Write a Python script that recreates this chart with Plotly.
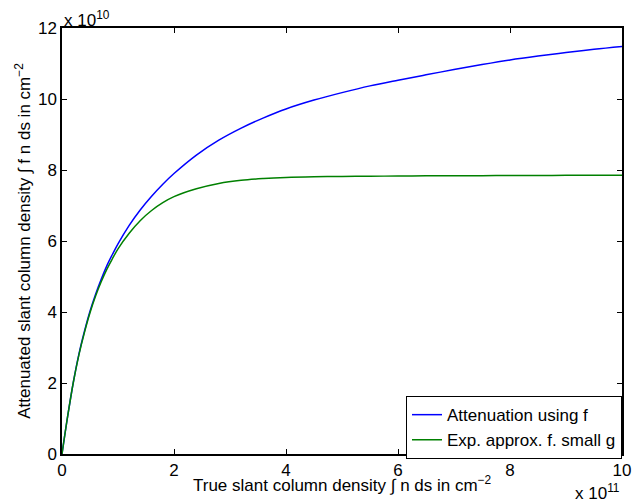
import plotly.graph_objects as go

# x in units of 1e11 cm^-2, y in units of 1e10 cm^-2
true_density = [0, 0.1, 0.2, 0.3, 0.4, 0.5, 0.6, 0.7, 0.8, 0.9, 1.0, 1.2, 1.4, 1.6, 1.8, 2.0,
                2.4, 2.8, 3.2, 3.6, 4.0, 4.5, 5.0, 5.5, 6.0, 6.5, 7.0, 7.5, 8.0, 8.5, 9.0, 9.5, 10.0]
attenuated_f = [0, 1.05, 2.0, 2.8, 3.45, 4.02, 4.5, 4.92, 5.3, 5.62, 5.92, 6.44, 6.88, 7.26, 7.6, 7.9,
                8.42, 8.84, 9.18, 9.47, 9.72, 9.97, 10.18, 10.37, 10.53, 10.68, 10.83, 10.97, 11.1, 11.21, 11.31, 11.4, 11.48]
exp_approx = [0, 1.05, 2.0, 2.78, 3.42, 3.98, 4.45, 4.85, 5.2, 5.5, 5.78, 6.22, 6.58, 6.86, 7.08, 7.25,
              7.47, 7.62, 7.71, 7.76, 7.79, 7.81, 7.82, 7.825, 7.83, 7.835, 7.84, 7.84, 7.845, 7.845, 7.85, 7.85, 7.85]

series_names = ["Attenuation using f", "Exp. approx. f. small g"]
x_ticks = [0, 2, 4, 6, 8, 10]
y_ticks = [0, 2, 4, 6, 8, 10, 12]

FONT = "Liberation Sans, Arial, Helvetica, sans-serif"
FS = 17

fig = go.Figure()
fig.add_trace(go.Scatter(x=true_density, y=attenuated_f, mode="lines", name=series_names[0],
                         line=dict(color="#0000ff", width=1.5, shape="spline", smoothing=1.0)))
fig.add_trace(go.Scatter(x=true_density, y=exp_approx, mode="lines", name=series_names[1],
                         line=dict(color="#008000", width=1.5, shape="spline", smoothing=1.0)))

axis_common = dict(showline=True, linecolor="black", linewidth=1.5, mirror="ticks",
                   ticks="inside", ticklen=5, tickwidth=1.2, tickcolor="black",
                   showgrid=False, zeroline=False, automargin=False,
                   tickfont=dict(family=FONT, size=FS, color="black"))

fig.update_layout(
    width=633, height=494,
    margin=dict(l=54, r=19, t=20, b=48, pad=0),
    paper_bgcolor="white", plot_bgcolor="white",
    font=dict(family=FONT, size=FS, color="black"),
    xaxis=dict(range=[0, 10], tickvals=x_ticks, ticktext=[str(v) for v in x_ticks],
               **axis_common),
    yaxis=dict(range=[0, 12], tickvals=y_ticks, ticktext=[str(v) for v in y_ticks],
               title=dict(text="Attenuated slant column density ∫ f n ds in cm<sup>−2</sup>",
                          font=dict(family=FONT, size=FS), standoff=3),
               **axis_common),
    showlegend=True,
    legend=dict(x=1, y=-0.012, xanchor="right", yanchor="bottom",
                bgcolor="white", bordercolor="black", borderwidth=1,
                font=dict(family=FONT, size=FS), itemwidth=30,
                tracegroupgap=0),
    annotations=[
        dict(text="True slant column density ∫ n ds in cm<sup>−2</sup>", xref="paper", yref="paper",
             x=0.5, y=0, xanchor="center", yanchor="middle", yshift=-30, showarrow=False,
             font=dict(family=FONT, size=FS)),
        dict(text="x 10<sup>10</sup>", xref="paper", yref="paper", x=0, y=1,
             xanchor="left", yanchor="bottom", yshift=-4, showarrow=False,
             font=dict(family=FONT, size=FS)),
        dict(text="x 10<sup>11</sup>", xref="paper", yref="paper", x=1, y=0,
             xanchor="right", yanchor="top", yshift=-25, xshift=0, showarrow=False,
             font=dict(family=FONT, size=FS)),
    ],
)

fig.write_html("out.html")
